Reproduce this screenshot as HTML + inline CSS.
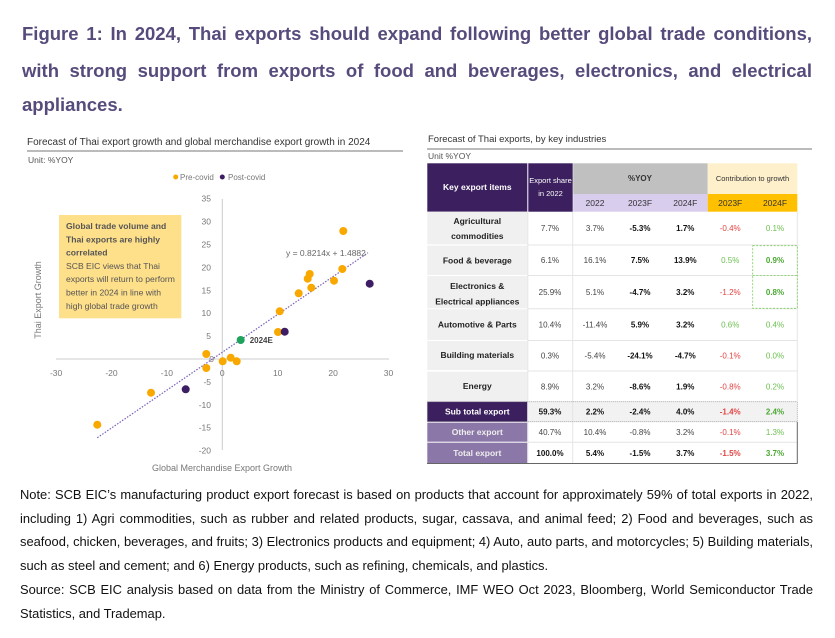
<!DOCTYPE html>
<html><head><meta charset="utf-8"><style>
body{margin:0;background:#fff;width:835px;height:638px;overflow:hidden;position:relative;font-family:"Liberation Sans",sans-serif}
.t{position:absolute;left:22px;width:790px;font-size:18.5px;font-weight:bold;color:#574b7c;text-align:justify;text-align-last:justify;white-space:nowrap;line-height:22px}
.n{position:absolute;left:20px;width:793px;font-size:12.9px;color:#111;text-align:justify;text-align-last:justify;white-space:nowrap;line-height:16px}
svg{position:absolute;left:0;top:0}
svg text{font-family:"Liberation Sans",sans-serif}
</style></head><body>
<div class="t" style="top:23px">Figure 1: In 2024, Thai exports should expand following better global trade conditions,</div>
<div class="t" style="top:60px">with strong support from exports of food and beverages, electronics, and electrical</div>
<div class="t" style="top:94px;text-align-last:left">appliances.</div>

<svg width="835" height="638" viewBox="0 0 835 638">
<text x="27" y="145" font-size="10" fill="#333">Forecast of Thai export growth and global merchandise export growth in 2024</text>
<line x1="27" y1="151" x2="403" y2="151" stroke="#777" stroke-width="1"/>
<text x="28" y="163" font-size="8.5" fill="#555">Unit: %YOY</text>
<circle cx="175.7" cy="177" r="2.5" fill="#f9a800"/><text x="180" y="180" font-size="8" fill="#777">Pre-covid</text>
<circle cx="222.3" cy="177" r="2.5" fill="#3d1d63"/><text x="228" y="180" font-size="8" fill="#777">Post-covid</text>
<line x1="222.3" y1="199" x2="222.3" y2="450" stroke="#ccc"/>
<line x1="56" y1="359" x2="389" y2="359" stroke="#ccc"/>
<g font-size="8.5" fill="#777" text-anchor="end">
<text x="211" y="201.7">35</text><text x="211" y="224.6">30</text><text x="211" y="247.5">25</text><text x="211" y="270.4">20</text><text x="211" y="293.3">15</text><text x="211" y="316.2">10</text><text x="211" y="339.1">5</text><text x="214" y="362">0</text><text x="211" y="384.9">-5</text><text x="211" y="407.8">-10</text><text x="211" y="430.7">-15</text><text x="211" y="453.6">-20</text>
</g>
<g font-size="8.5" fill="#777" text-anchor="middle">
<text x="56.1" y="376">-30</text><text x="111.5" y="376">-20</text><text x="166.9" y="376">-10</text><text x="222.3" y="376">0</text><text x="277.7" y="376">10</text><text x="333.1" y="376">20</text><text x="388.5" y="376">30</text>
</g>
<text x="222" y="471" font-size="9" fill="#777" text-anchor="middle">Global Merchandise Export Growth</text>
<text transform="translate(41,300) rotate(-90)" font-size="9" fill="#777" text-anchor="middle">Thai Export Growth</text>
<rect x="59" y="215" width="122.3" height="103.3" fill="#fedf8a"/>
<g font-size="8.6" fill="#555">
<text x="66" y="229" font-weight="bold">Global trade volume and</text>
<text x="66" y="242.3" font-weight="bold">Thai exports are highly</text>
<text x="66" y="255.6" font-weight="bold">correlated</text>
<text x="66" y="268.9">SCB EIC views that Thai</text>
<text x="66" y="282.2">exports will return to perform</text>
<text x="66" y="295.5">better in 2024 in line with</text>
<text x="66" y="308.8">high global trade growth</text>
</g>
<line x1="97.3" y1="437.7" x2="368" y2="252.7" stroke="#7a5fb8" stroke-width="1.2" stroke-dasharray="1.5,1.5"/>
<text x="286" y="256" font-size="8.5" fill="#666">y = 0.8214x + 1.4882</text>
<g fill="#f9a800">
<circle cx="343.3" cy="231" r="4"/><circle cx="342.3" cy="269" r="4"/><circle cx="334" cy="280.7" r="4"/><circle cx="309.7" cy="274" r="4"/><circle cx="307.7" cy="278.7" r="4"/><circle cx="311.3" cy="287.7" r="4"/><circle cx="298.7" cy="293.3" r="4"/><circle cx="279.7" cy="311.3" r="4"/><circle cx="278" cy="332" r="4"/><circle cx="206.3" cy="354" r="4"/><circle cx="206.3" cy="368" r="4"/><circle cx="222.7" cy="361.3" r="4"/><circle cx="230.7" cy="357.7" r="4"/><circle cx="236.7" cy="361.3" r="4"/><circle cx="151" cy="392.7" r="4"/><circle cx="97.3" cy="424.7" r="4"/>
</g>
<g fill="#3d1d63"><circle cx="369.7" cy="283.7" r="4"/><circle cx="284.7" cy="331.7" r="4"/><circle cx="185.7" cy="389.3" r="4"/></g>
<circle cx="240.7" cy="340" r="4" fill="#1fa35c"/>
<text x="249.7" y="343" font-size="8" fill="#444" font-weight="bold">2024E</text>

<text x="428" y="142" font-size="9.5" fill="#333">Forecast of Thai exports, by key industries</text>
<line x1="427" y1="149" x2="812" y2="149" stroke="#777" stroke-width="1"/>
<text x="428" y="159" font-size="8.5" fill="#555">Unit %YOY</text>
<rect x="427.3" y="163.3" width="100" height="48.4" fill="#3b1f5e"/>
<rect x="528.3" y="163.3" width="44.4" height="48.4" fill="#3b1f5e"/>
<rect x="573.2" y="163.3" width="134.5" height="30.7" fill="#c0c0c0"/>
<rect x="573.2" y="194" width="134.5" height="17.7" fill="#d9cdee"/>
<rect x="707.7" y="163.3" width="89.6" height="30.7" fill="#fff0cc"/>
<rect x="707.7" y="194" width="89.6" height="17.7" fill="#ffc000"/>
<g font-size="8.5" text-anchor="middle">
<text x="477.3" y="190" fill="#fff" font-weight="bold">Key export items</text>
<text x="550.5" y="183" fill="#fff" font-size="7.5">Export share</text>
<text x="550.5" y="196" fill="#fff" font-size="7.5">in 2022</text>
<text x="640" y="181" fill="#333" font-size="8" font-weight="bold">%YOY</text>
<text x="752.5" y="181" fill="#333" font-size="7.5">Contribution  to growth</text>
<text x="595" y="206" fill="#333">2022</text><text x="640" y="206" fill="#333">2023F</text><text x="685.3" y="206" fill="#333">2024F</text>
<text x="730.2" y="206" fill="#333">2023F</text><text x="775" y="206" fill="#333">2024F</text>
</g>
<g fill="#f0f0f0">
<rect x="427.3" y="211.7" width="100" height="32.6"/><rect x="427.3" y="245.7" width="100" height="29.3"/><rect x="427.3" y="276" width="100" height="32.3"/><rect x="427.3" y="309.3" width="100" height="30.7"/><rect x="427.3" y="341" width="100" height="29"/><rect x="427.3" y="371.7" width="100" height="29.3"/>
</g>
<rect x="427.3" y="401.7" width="100" height="20" fill="#3b1f5e"/>
<rect x="528.3" y="401.7" width="269" height="20" fill="#f2f2f2"/>
<rect x="427.3" y="422.7" width="100" height="19" fill="#8c78a8"/>
<rect x="427.3" y="442.7" width="100" height="20.6" fill="#8c78a8"/>
<g stroke="#e4e4e4" stroke-width="1">
<line x1="528" y1="245" x2="797" y2="245"/><line x1="528" y1="275.5" x2="797" y2="275.5"/><line x1="528" y1="308.8" x2="797" y2="308.8"/><line x1="528" y1="340.5" x2="797" y2="340.5"/><line x1="528" y1="371" x2="797" y2="371"/><line x1="528" y1="442.2" x2="797" y2="442.2"/>
<line x1="527.8" y1="211.7" x2="527.8" y2="463"/><line x1="572.7" y1="211.7" x2="572.7" y2="463"/><line x1="797.3" y1="211.7" x2="797.3" y2="401"/>
</g>
<rect x="427.3" y="401.7" width="370" height="20" fill="none" stroke="#999" stroke-dasharray="1,1" stroke-width="0.8"/>
<line x1="427" y1="463.5" x2="797.5" y2="463.5" stroke="#666" stroke-width="1"/>
<line x1="797.3" y1="422" x2="797.3" y2="463.5" stroke="#666" stroke-width="1"/>
<rect x="752.7" y="245.7" width="44.6" height="62.6" fill="none" stroke="#7ccf5a" stroke-dasharray="2,1.5" stroke-width="0.8"/>
<line x1="752.7" y1="275.5" x2="797.3" y2="275.5" stroke="#7ccf5a" stroke-dasharray="2,1.5" stroke-width="0.8"/>
<g font-size="8.5" text-anchor="middle" fill="#222" font-weight="bold">
<text x="477.3" y="224">Agricultural</text><text x="477.3" y="239">commodities</text>
<text x="477.3" y="263.5">Food &amp; beverage</text>
<text x="477.3" y="289">Electronics &amp;</text><text x="477.3" y="304.5">Electrical appliances</text>
<text x="477.3" y="327.5">Automotive &amp; Parts</text>
<text x="477.3" y="358">Building materials</text>
<text x="477.3" y="389">Energy</text>
<text x="477.3" y="414.5" fill="#fff">Sub total export</text>
<text x="477.3" y="435" fill="#eee">Other export</text>
<text x="477.3" y="456" fill="#eee">Total export</text>
</g>
<g font-size="8" text-anchor="middle" fill="#444">
<text x="550" y="231">7.7%</text><text x="595" y="231">3.7%</text><text x="640" y="231" fill="#111" font-weight="bold">-5.3%</text><text x="685.3" y="231" fill="#111" font-weight="bold">1.7%</text><text x="730.2" y="231" fill="#e04545">-0.4%</text><text x="775" y="231" fill="#6cc04f">0.1%</text>
<text x="550" y="263">6.1%</text><text x="595" y="263">16.1%</text><text x="640" y="263" fill="#111" font-weight="bold">7.5%</text><text x="685.3" y="263" fill="#111" font-weight="bold">13.9%</text><text x="730.2" y="263" fill="#6cc04f">0.5%</text><text x="775" y="263" fill="#4aa832" font-weight="bold">0.9%</text>
<text x="550" y="295">25.9%</text><text x="595" y="295">5.1%</text><text x="640" y="295" fill="#111" font-weight="bold">-4.7%</text><text x="685.3" y="295" fill="#111" font-weight="bold">3.2%</text><text x="730.2" y="295" fill="#e04545">-1.2%</text><text x="775" y="295" fill="#4aa832" font-weight="bold">0.8%</text>
<text x="550" y="327.5">10.4%</text><text x="595" y="327.5">-11.4%</text><text x="640" y="327.5" fill="#111" font-weight="bold">5.9%</text><text x="685.3" y="327.5" fill="#111" font-weight="bold">3.2%</text><text x="730.2" y="327.5" fill="#6cc04f">0.6%</text><text x="775" y="327.5" fill="#6cc04f">0.4%</text>
<text x="550" y="358.5">0.3%</text><text x="595" y="358.5">-5.4%</text><text x="640" y="358.5" fill="#111" font-weight="bold">-24.1%</text><text x="685.3" y="358.5" fill="#111" font-weight="bold">-4.7%</text><text x="730.2" y="358.5" fill="#e04545">-0.1%</text><text x="775" y="358.5" fill="#6cc04f">0.0%</text>
<text x="550" y="389.5">8.9%</text><text x="595" y="389.5">3.2%</text><text x="640" y="389.5" fill="#111" font-weight="bold">-8.6%</text><text x="685.3" y="389.5" fill="#111" font-weight="bold">1.9%</text><text x="730.2" y="389.5" fill="#e04545">-0.8%</text><text x="775" y="389.5" fill="#6cc04f">0.2%</text>
<g font-weight="bold" fill="#111"><text x="550" y="414.5">59.3%</text><text x="595" y="414.5">2.2%</text><text x="640" y="414.5">-2.4%</text><text x="685.3" y="414.5">4.0%</text><text x="730.2" y="414.5" fill="#e04545">-1.4%</text><text x="775" y="414.5" fill="#4aa832">2.4%</text></g>
<text x="550" y="435">40.7%</text><text x="595" y="435">10.4%</text><text x="640" y="435">-0.8%</text><text x="685.3" y="435">3.2%</text><text x="730.2" y="435" fill="#e04545">-0.1%</text><text x="775" y="435" fill="#6cc04f">1.3%</text>
<g font-weight="bold" fill="#111"><text x="550" y="456">100.0%</text><text x="595" y="456">5.4%</text><text x="640" y="456">-1.5%</text><text x="685.3" y="456">3.7%</text><text x="730.2" y="456" fill="#e04545">-1.5%</text><text x="775" y="456" fill="#4aa832">3.7%</text></g>
</g>
</svg>

<div class="n" style="top:487px">Note: SCB EIC’s manufacturing product export forecast is based on products that account for approximately 59% of total exports in 2022,</div>
<div class="n" style="top:511px">including 1) Agri commodities, such as rubber and related products, sugar, cassava, and animal feed; 2) Food and beverages, such as</div>
<div class="n" style="top:534px">seafood, chicken, beverages, and fruits; 3) Electronics products and equipment; 4) Auto, auto parts, and motorcycles; 5) Building materials,</div>
<div class="n" style="top:558px;text-align-last:left">such as steel and cement; and 6) Energy products, such as refining, chemicals, and plastics.</div>
<div class="n" style="top:582px">Source: SCB EIC analysis based on data from the Ministry of Commerce, IMF WEO Oct 2023, Bloomberg, World Semiconductor Trade</div>
<div class="n" style="top:606px;text-align-last:left">Statistics, and Trademap.</div>
</body></html>
